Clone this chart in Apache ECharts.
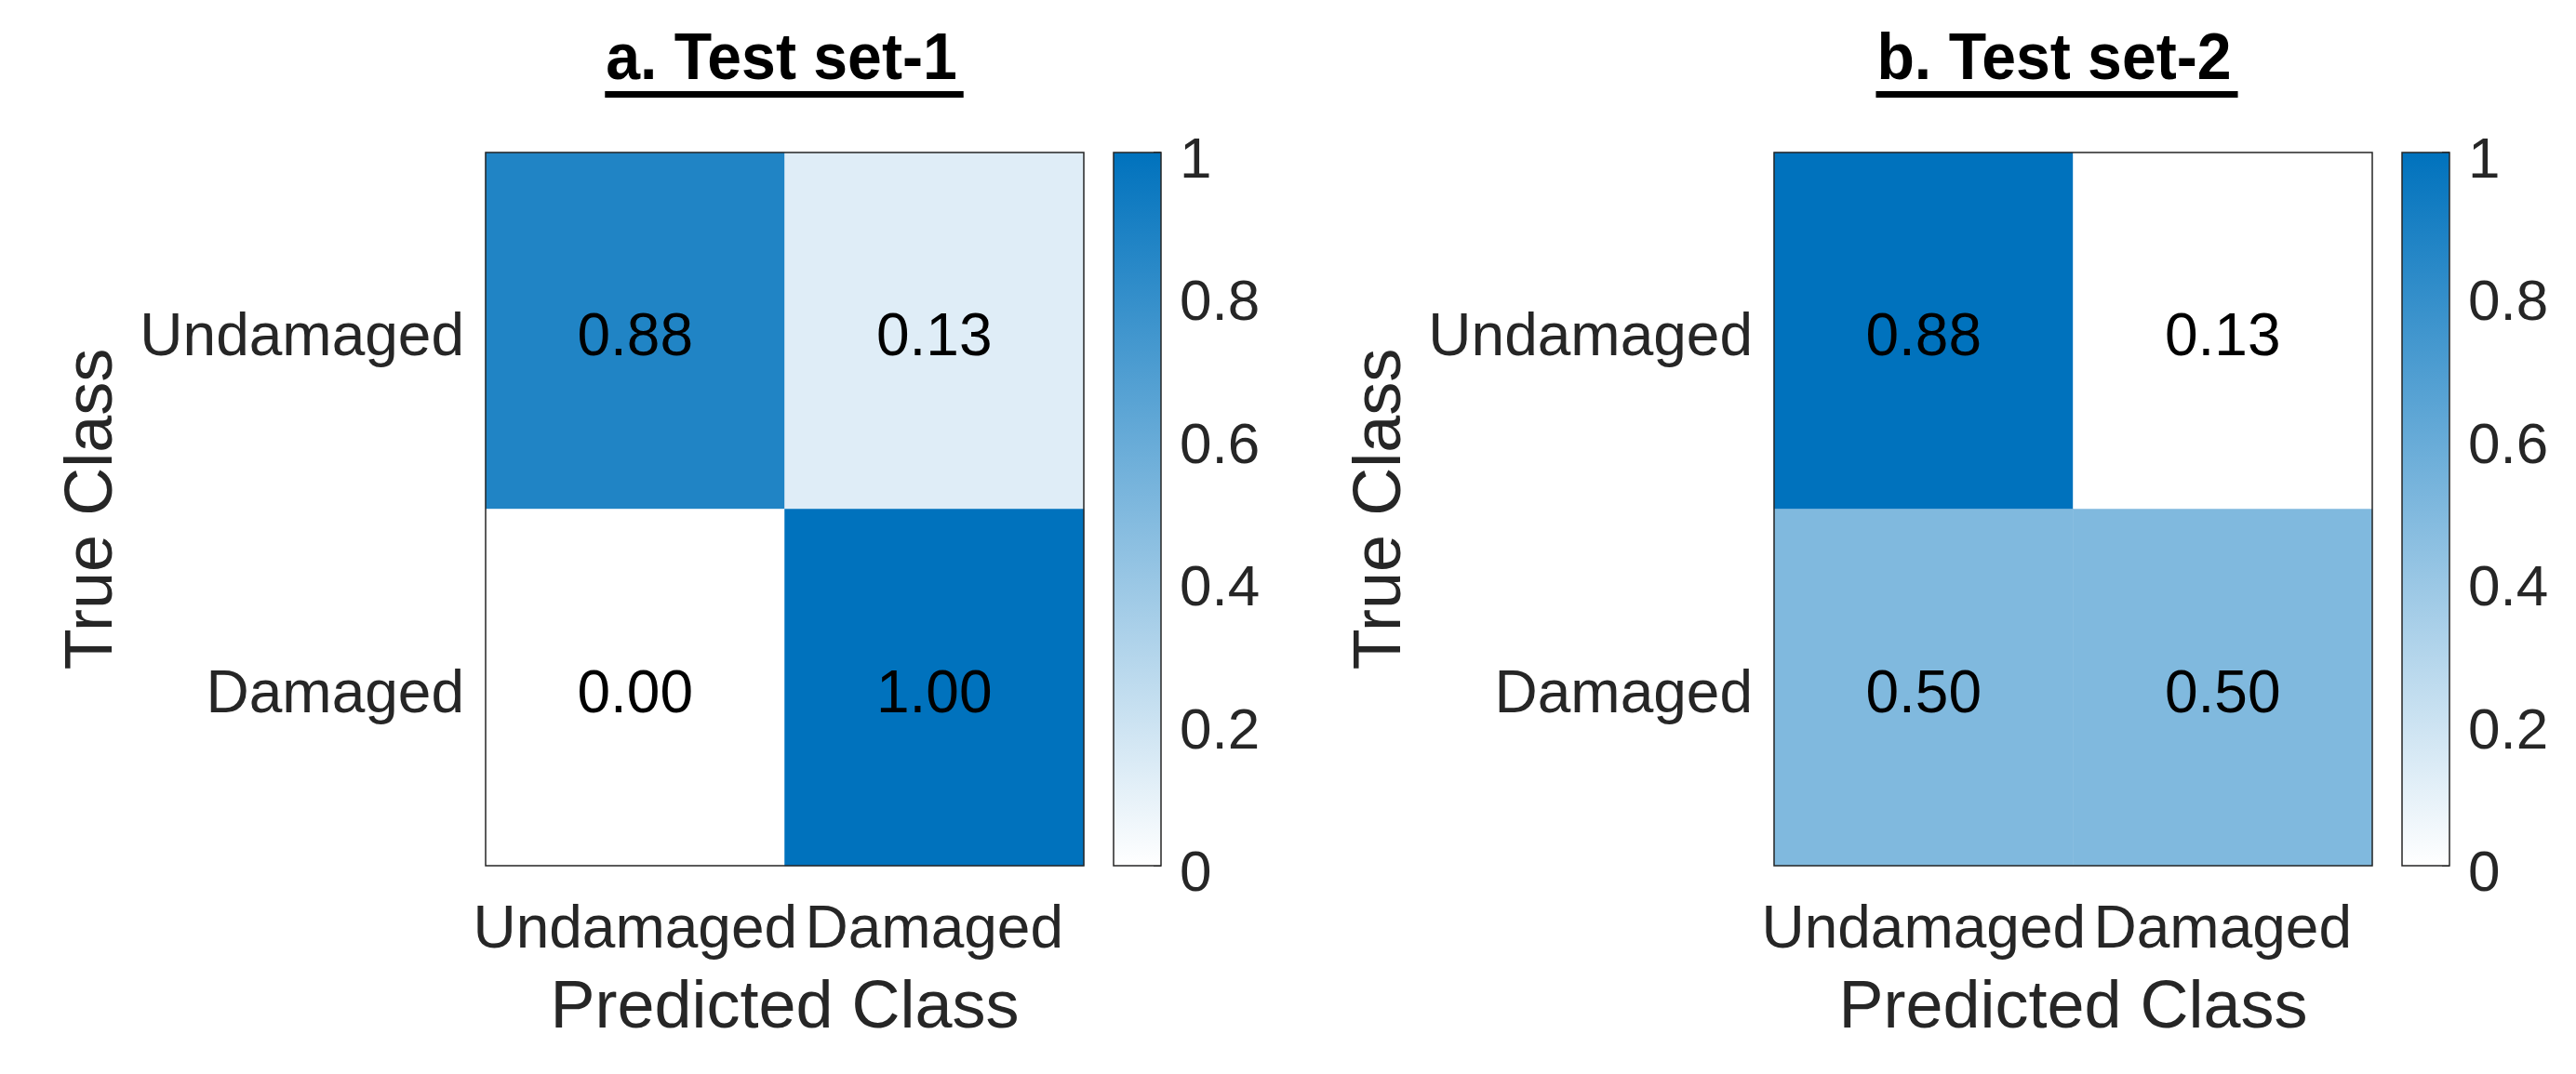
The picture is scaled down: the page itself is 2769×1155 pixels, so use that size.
<!DOCTYPE html>
<html>
<head>
<meta charset="utf-8">
<script src="https://cdn.jsdelivr.net/npm/echarts@6/dist/echarts.min.js"></script>
<style>
  html, body { margin: 0; padding: 0; background: #fff; }
  #main { width: 2769px; height: 1155px; }
</style>
</head>
<body>
<div id="main"></div>
<script>
// confusion matrices: rows = true class, cols = predicted class
var CLASSES = ['Undamaged', 'Damaged'];
var SET1 = [[0.875, 0.125], [0.0, 1.0]];
var SET2 = [[0.875, 0.125], [0.5, 0.5]];
var TITLES = ['a. Test set-1', 'b. Test set-2'];
var CBAR_TICKS = [0, 0.2, 0.4, 0.6, 0.8, 1];

(function () {
  'use strict';

  var INK = '#262626';
  var FONT = '"Liberation Sans", Arial, Helvetica, sans-serif';
  var BLUE = '#0072BD';

  // panel layout (px)
  var PANEL_LEFT = [522, 1907];
  var TOP = 164, W = 643, H = 767;
  var CB_OFFSET = 675, CB_W = 51;
  var TITLE_CX = [840, 2208];
  var TITLE_SX = 0.945;   // title font looks a bit narrow

  function toCells(m) {
    var out = [];
    m.forEach(function (row, r) {
      row.forEach(function (v, c) { out.push([c, r, v]); });
    });
    return out;
  }
  function flat(m) { return [].concat.apply([], m); }

  function textWidth(txt, font) {
    var ctx = document.createElement('canvas').getContext('2d');
    ctx.font = font;
    return ctx.measureText(txt).width;
  }

  var grids = [], xAxes = [], yAxes = [], series = [], vmaps = [], graphics = [];

  [SET1, SET2].forEach(function (mat, i) {
    var left = PANEL_LEFT[i];
    var gHeat = grids.length;
    grids.push({ left: left, top: TOP, width: W, height: H, show: true, z: 10,
      backgroundColor: 'transparent', borderColor: INK, borderWidth: 1.5 });
    var gBar = grids.length;
    grids.push({ left: left + CB_OFFSET, top: TOP, width: CB_W, height: H, show: true, z: 10,
      backgroundColor: 'transparent', borderColor: INK, borderWidth: 1.5 });

    xAxes.push({
      type: 'category', gridIndex: gHeat, data: CLASSES,
      axisLine: { show: false }, axisTick: { show: false },
      axisLabel: { color: INK, fontSize: 64, margin: 38, interval: 0, hideOverlap: false },
      name: 'Predicted Class', nameLocation: 'middle', nameGap: 118,
      nameTextStyle: { color: INK, fontSize: 72 }
    });
    // MATLAB text sits a little below the tick, hence the small line box aligned to top
    yAxes.push({
      type: 'category', gridIndex: gHeat, data: CLASSES, inverse: true,
      axisLine: { show: false }, axisTick: { show: false },
      axisLabel: { color: INK, fontSize: 64, margin: 23, interval: 0,
        verticalAlign: 'top', lineHeight: 18 },
      name: 'True Class', nameLocation: 'middle', nameGap: 386,
      nameTextStyle: { color: INK, fontSize: 72 }
    });
    xAxes.push({ type: 'category', gridIndex: gBar, data: ['cb'], show: false });
    yAxes.push({
      type: 'value', gridIndex: gBar, position: 'right', min: 0, max: 1, interval: 0.2,
      axisLine: { show: false },
      axisTick: { show: true, inside: true, length: 8, lineStyle: { color: INK, width: 1.5 } },
      splitLine: { show: false },
      axisLabel: { color: INK, fontSize: 62, margin: 20, verticalAlign: 'top', lineHeight: 20,
        customValues: CBAR_TICKS, formatter: function (v) { return String(+v.toFixed(1)); } }
    });

    var sHeat = series.length;
    series.push({
      type: 'heatmap', xAxisIndex: xAxes.length - 2, yAxisIndex: yAxes.length - 2,
      data: toCells(mat),
      label: {
        show: true, color: '#000', fontSize: 64, offset: [0, 9],
        formatter: function (p) { return p.value[2].toFixed(2); }
      },
      itemStyle: { borderWidth: 0 },
      emphasis: { disabled: true }, silent: true
    });
    series.push({
      type: 'bar', xAxisIndex: xAxes.length - 1, yAxisIndex: yAxes.length - 1,
      data: [1], barWidth: '100%', silent: true,
      itemStyle: {
        color: { type: 'linear', x: 0, y: 0, x2: 0, y2: 1,
          colorStops: [{ offset: 0, color: BLUE }, { offset: 1, color: '#ffffff' }] }
      }
    });

    // colour limits follow the data range (as MATLAB does)
    var vals = flat(mat);
    vmaps.push({
      type: 'continuous', show: false, seriesIndex: sHeat, dimension: 2,
      min: Math.min.apply(null, vals), max: Math.max.apply(null, vals),
      inRange: { color: ['#ffffff', BLUE] }
    });

    // underlined bold title
    var tFont = 'bold 70px ' + FONT;
    var tw = textWidth(TITLES[i], tFont) * TITLE_SX;
    graphics.push({
      type: 'text', x: TITLE_CX[i], y: 66, scaleX: TITLE_SX, silent: true,
      style: { text: TITLES[i], font: tFont, fill: '#000', align: 'center', verticalAlign: 'middle' }
    });
    graphics.push({
      type: 'rect', silent: true,
      shape: { x: TITLE_CX[i] - tw / 2 - 1, y: 98, width: tw + 8, height: 7 },
      style: { fill: '#000' }
    });
  });

  var chart = echarts.init(document.getElementById('main'), null, { renderer: 'canvas' });
  chart.setOption({
    animation: false,
    backgroundColor: '#ffffff',
    textStyle: { fontFamily: FONT },
    grid: grids,
    xAxis: xAxes,
    yAxis: yAxes,
    visualMap: vmaps,
    series: series,
    graphic: graphics
  });

  window.addEventListener('resize', function () { chart.resize(); });
})();
</script>
</body>
</html>
